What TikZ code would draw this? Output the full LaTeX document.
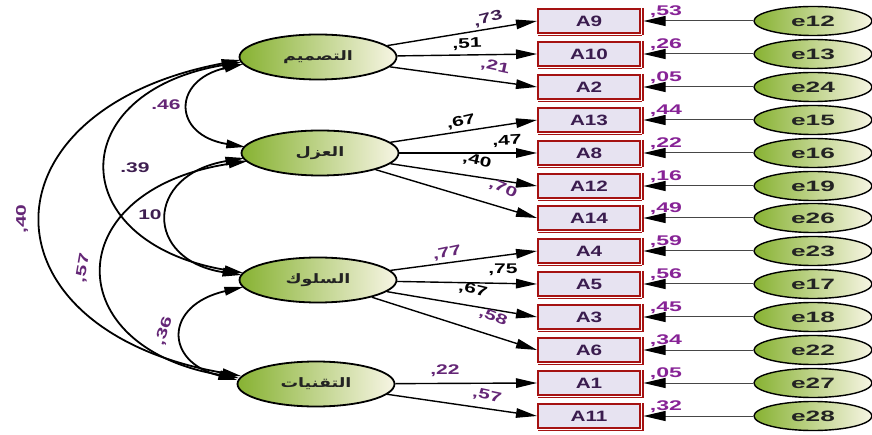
\documentclass[tikz,border=0pt]{standalone}
\usepackage{fontspec}
\usepackage{graphicx}
\setmainfont{Liberation Sans}
\newfontfamily\arabicfont[Script=Arabic]{DejaVu Sans}
\TeXXeTstate=1
\usetikzlibrary{shapes.geometric,arrows.meta,calc}
\definecolor{boxred}{RGB}{165,18,18}
\definecolor{boxfill}{RGB}{231,227,241}
\definecolor{boxtext}{RGB}{58,28,78}
\definecolor{gleft}{RGB}{135,178,50}
\definecolor{gmid}{RGB}{210,224,155}
\definecolor{gright}{RGB}{247,245,228}
\definecolor{rtwo}{RGB}{135,35,150}
\definecolor{lpurple}{RGB}{100,38,118}
\definecolor{dpurple}{RGB}{62,30,80}
\definecolor{errline}{RGB}{70,70,70}
\newcommand{\myxs}[1]{\scalebox{1.5}[1]{#1}}
\newcommand{\myxr}[1]{\scalebox{1.65}[1]{#1}}
\newcommand{\myxb}[1]{\scalebox{1.38}[1]{#1}}
\newcommand{\myxe}[1]{\scalebox{1.75}[1]{#1}}
\newcommand{\myxa}[1]{\scalebox{1.35}[1]{#1}}
\tikzset{
  lat/.style={ellipse, draw=black, line width=1.8pt, minimum width=157pt, minimum height=45pt,
    inner sep=0pt, left color=gleft, middle color=gmid, right color=gright,
    font=\arabicfont\bfseries\fontsize{13}{13}\selectfont, text={rgb,255:red,35;green,35;blue,35}},
  errnode/.style={ellipse, draw=black, line width=1.4pt, minimum width=118pt, minimum height=29pt,
    inner sep=0pt, left color=gleft, middle color=gmid, right color=gright,
    font=\bfseries\fontsize{15}{15}\selectfont, text={rgb,255:red,35;green,35;blue,35}},
  obs/.style={rectangle, draw=boxred, line width=2pt, fill=boxfill, minimum width=102pt,
    minimum height=24pt, inner sep=0pt, font=\bfseries\fontsize{15}{15}\selectfont, text=boxtext},
  pth/.style={line width=1.4pt, -{Triangle[length=21pt,width=9.5pt]}},
  cov/.style={line width=1.8pt, {Triangle[length=19pt,width=8.5pt]}-{Triangle[length=19pt,width=8.5pt]}},
  errarr/.style={draw=errline, line width=1pt, -{Triangle[length=22pt,width=10pt,color=black]}},
  plab/.style={inner sep=0pt, font=\bfseries\fontsize{14}{14}\selectfont},
  rlab/.style={inner sep=0pt, font=\bfseries\fontsize{14}{14}\selectfont, text=rtwo},
}
\begin{document}
\begin{tikzpicture}[x=1pt,y=-1pt]
\useasboundingbox (0,0) rectangle (872,435);
\fill[white] (0,0) rectangle (872,435);
% latent variables
\node[lat] (lat1) at (318,57) {\myxa{\beginR التصميم\endR}};
\node[lat] (lat2) at (320,153) {\myxa{\beginR العزل\endR}};
\node[lat] (lat3) at (318,280) {\myxa{\beginR السلوك\endR}};
\node[lat] (lat4) at (316,384) {\myxa{\beginR التقنيات\endR}};
% observed, errors
\foreach \n/\t/\e/\r/\y in {0/A9/e12/53/21, 1/A10/e13/26/54, 2/A2/e24/05/87, 3/A13/e15/44/120,
  4/A8/e16/22/153, 5/A12/e19/16/186, 6/A14/e26/49/218, 7/A4/e23/59/251, 8/A5/e17/56/284,
  9/A3/e18/45/317, 10/A6/e22/34/350, 11/A1/e27/05/383, 12/A11/e28/32/416}{
  \node[obs] (b\n) at (589,\y) {\myxb{\t}};
  \draw[boxred, line width=2.2pt] ($(b\n.north east)+(1.6,0)$) -- ($(b\n.south east)+(1.6,1.5)$);
  \draw[boxred, line width=1.2pt] ($(b\n.south west)+(1,1.3)$) -- ($(b\n.south east)+(1,1.3)$);
  \node[errnode] (e\n) at (813,\y) {\myxe{\e}};
  \draw[errarr] (e\n) -- ($(b\n.east)+(2.5,0)$);
  \node[rlab] (r\n) at (666,\y-9.5) {\myxr{,\r}};
}
% paths
\foreach \s/\d in {lat1/b0, lat1/b1, lat1/b2, lat2/b3, lat2/b4, lat2/b5, lat2/b6,
  lat3/b7, lat3/b8, lat3/b9, lat3/b10, lat4/b11, lat4/b12}{
  \draw[pth] (\s) -- (\d.west);
}
% path labels
\node[plab, text=dpurple, rotate=14] (p0) at (488,19) {\myxs{,73}};
\node[plab, text=black, rotate=2] (p1) at (467,44) {\myxs{,51}};
\node[plab, text=lpurple, rotate=-12] (p2) at (495,67) {\myxs{,21}};
\node[plab, text=black, rotate=13] (p3) at (461,122) {\myxs{,67}};
\node[plab, text=black, rotate=3] (p4) at (507,141) {\myxs{,47}};
\node[plab, text=black, rotate=-13] (p5) at (477,161) {\myxs{,40}};
\node[plab, text=lpurple, rotate=-24] (p6) at (503,189) {\myxs{,70}};
\node[plab, text=lpurple, rotate=12] (p7) at (447,253) {\myxs{,77}};
\node[plab, text=black, rotate=0] (p8) at (503,270) {\myxs{,75}};
\node[plab, text=black, rotate=-13] (p9) at (473,290) {\myxs{,67}};
\node[plab, text=lpurple, rotate=-22] (p10) at (493,317) {\myxs{,58}};
\node[plab, text=lpurple, rotate=0] (p11) at (445,371) {\myxs{,22}};
\node[plab, text=lpurple, rotate=-12] (p12) at (487,396) {\myxs{,57}};
% covariance endpoints
\coordinate (a1) at ($(lat1.center)+(-77.5,3)$);
\coordinate (a2) at ($(lat1.center)+(-76.5,5)$);
\coordinate (a3) at ($(lat1.center)+(-74.6,7)$);
\coordinate (m1) at ($(lat2.center)+(-74.7,-6)$);
\coordinate (m2) at ($(lat2.center)+(-75.6,5)$);
\coordinate (m3) at ($(lat2.center)+(-72.4,8)$);
\coordinate (s1) at ($(lat3.center)+(-74.6,-7)$);
\coordinate (s2) at ($(lat3.center)+(-76.5,-5)$);
\coordinate (s3) at ($(lat3.center)+(-74.6,7)$);
\coordinate (t1) at ($(lat4.center)+(-74.8,-8)$);
\coordinate (t2) at ($(lat4.center)+(-77.1,-6)$);
\coordinate (t3) at ($(lat4.center)+(-78.7,-4)$);
% covariances
\draw[cov] (a3) .. controls (172,80) and (172,135) .. (m1);
\draw[cov] (a2) .. controls (63,92) and (63,242) .. (s1);
\draw[cov] (a1) .. controls (-23,110) and (-23,330) .. (t1);
\draw[cov] (m2) .. controls (144,175) and (144,260) .. (s2);
\draw[cov] (m3) .. controls (58,190) and (58,348) .. (t2);
\draw[cov] (s3) .. controls (164,305) and (164,362) .. (t3);
% covariance labels
\node[plab, text=lpurple] (c1) at (166,105) {\myxs{.46}};
\node[plab, text=dpurple] (c2) at (135,168) {\myxs{.39}};
\node[plab, text=dpurple] (c3) at (150,215) {\myxs{10}};
\node[plab, text=lpurple, rotate=90] (c4) at (22,219) {\myxs{,40}};
\node[plab, text=lpurple, rotate=80] (c5) at (83,268) {\myxs{,57}};
\node[plab, text=lpurple, rotate=72] (c6) at (164,331) {\myxs{,36}};
\end{tikzpicture}
\end{document}
